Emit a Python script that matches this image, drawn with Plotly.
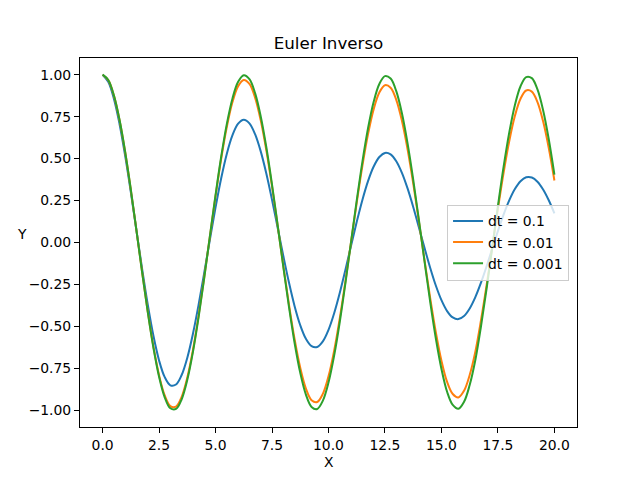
import plotly.graph_objects as go

# values, t = 0 .. 20 every 0.25
x_vals = [i * 0.25 for i in range(81)]

y_dt_01 = [1.0, 0.9571, 0.8568, 0.7065, 0.5167, 0.3000, 0.0703, -0.1582, -0.3713,
           -0.5564, -0.7031, -0.8030, -0.8515, -0.8467, -0.7902, -0.6867, -0.5439,
           -0.3712, -0.1802, 0.0173, 0.2088, 0.3828, 0.5292, 0.6395, 0.7083, 0.7317,
           0.7100, 0.6453, 0.5428, 0.4096, 0.2547, 0.0879, -0.0801, -0.2391, -0.3796,
           -0.4933, -0.5742, -0.6179, -0.6228, -0.5894, -0.5209, -0.4221, -0.3000,
           -0.1626, -0.0185, 0.1231, 0.2537, 0.3656, 0.4524, 0.5094, 0.5338, 0.5250,
           0.4843, 0.4150, 0.3220, 0.2116, 0.0909, -0.0323, -0.1505, -0.2566, -0.3440,
           -0.4090, -0.4469, -0.4568, -0.4383, -0.3935, -0.3257, -0.2397, -0.1412,
           -0.0364, 0.0681, 0.1657, 0.2509, 0.3186, 0.3652, 0.3883, 0.3871, 0.3622,
           0.3158, 0.2513, 0.1729]

y_dt_001 = [1.0, 0.9677, 0.8754, 0.7290, 0.5376, 0.3134, 0.0702, -0.1767, -0.4120,
            -0.6211, -0.7912, -0.9117, -0.9753, -0.9781, -0.9202, -0.8053, -0.6407,
            -0.4367, -0.2061, 0.0367, 0.2767, 0.4988, 0.6894, 0.8368, 0.9318, 0.9687,
            0.9454, 0.8634, 0.7280, 0.5477, 0.3339, 0.0999, -0.1398, -0.3702, -0.5770,
            -0.7474, -0.8710, -0.9403, -0.9509, -0.9025, -0.7981, -0.6445, -0.4512,
            -0.2304, 0.0042, 0.2379, 0.4563, 0.6458, 0.7947, 0.8939, 0.9373, 0.9225,
            0.8503, 0.7256, 0.5559, 0.3525, 0.1275, -0.1049, -0.3301, -0.5343, -0.7048,
            -0.8311, -0.9033, -0.9235, -0.8840, -0.7898, -0.6506, -0.4639, -0.2527,
            -0.0264, 0.2010, 0.4154, 0.6035, 0.7536, 0.8566, 0.9060, 0.8991, 0.8364,
            0.7219, 0.5629, 0.3692]

y_dt_0001 = [1.0, 0.9688, 0.8772, 0.7314, 0.5400, 0.3151, 0.0707, -0.1781, -0.4157,
             -0.6275, -0.8001, -0.9230, -0.9885, -0.9925, -0.9348, -0.8190, -0.6523,
             -0.4451, -0.2103, 0.0375, 0.2830, 0.5107, 0.7067, 0.8587, 0.9573, 0.9963,
             0.9734, 0.8900, 0.7513, 0.5659, 0.3453, 0.1034, -0.1449, -0.3842, -0.5995,
             -0.7774, -0.9070, -0.9802, -0.9924, -0.9430, -0.8349, -0.6749, -0.4731,
             -0.2418, 0.0044, 0.2503, 0.4805, 0.6809, 0.8388, 0.9446, 0.9916, 0.9769,
             0.9016, 0.7702, 0.5907, 0.3750, 0.1358, -0.1118, -0.3524, -0.5710, -0.7540,
             -0.8902, -0.9686, -0.9913, -0.9500, -0.8497, -0.7008, -0.5003, -0.2729,
             -0.0285, 0.2175, 0.4500, 0.6544, 0.8181, 0.9310, 0.9858, 0.9794, 0.9121,
             0.7881, 0.6152, 0.4040]

series = [("dt = 0.1", y_dt_01, "#1f77b4"),
          ("dt = 0.01", y_dt_001, "#ff7f0e"),
          ("dt = 0.001", y_dt_0001, "#2ca02c")]

y_ticks = [-1.0, -0.75, -0.5, -0.25, 0.0, 0.25, 0.5, 0.75, 1.0]
y_labels = [f"{v:.2f}".replace("-", "\u2212") for v in y_ticks]
x_ticks = [0.0, 2.5, 5.0, 7.5, 10.0, 12.5, 15.0, 17.5, 20.0]
x_labels = [f"{v:.1f}" for v in x_ticks]

FONT = "DejaVu Sans"
# the page puts the figure 8px in from the top-left corner
W, H = 632, 472
L, T, R, B = 72, 50, 63, 53
PW, PH = W - L - R, H - T - B

fig = go.Figure()
for name, ys, col in series:
    fig.add_trace(go.Scatter(x=x_vals, y=ys, name=name, mode="lines",
                             line=dict(color=col, width=2, shape="spline", smoothing=1)))

axis_common = dict(showgrid=False, zeroline=False, showline=True, mirror=True,
                   linecolor="black", linewidth=1, ticks="outside", ticklen=5,
                   tickwidth=1, tickcolor="black",
                   tickfont=dict(family=FONT, size=13.9, color="black"))

fig.update_layout(
    width=W, height=H,
    margin=dict(l=L, r=R, t=T, b=B),
    paper_bgcolor="white", plot_bgcolor="white",
    font=dict(family=FONT, size=13.9, color="black"),
    title=dict(text="Euler Inverso", x=0.5, xref="paper", xanchor="center",
               y=1 - 35 / H, yanchor="middle",
               font=dict(family=FONT, size=16.7, color="black")),
    xaxis=dict(range=[-1, 21], tickvals=x_ticks, ticktext=x_labels, **axis_common),
    yaxis=dict(range=[-1.1, 1.0995], tickvals=y_ticks, ticktext=y_labels, **axis_common),
    legend=dict(x=0.984, xanchor="right", y=0.5, yanchor="middle",
                bgcolor="rgba(255,255,255,0.8)", bordercolor="#cccccc", borderwidth=1,
                font=dict(family=FONT, size=13.9), tracegroupgap=0, itemwidth=30),
    showlegend=True,
)

fig.add_annotation(text="X", xref="paper", yref="paper", x=0.5, y=-35 / PH,
                   showarrow=False, xanchor="center", yanchor="middle",
                   font=dict(family=FONT, size=13.9, color="black"))
fig.add_annotation(text="Y", xref="paper", yref="paper", x=-58 / PW, y=0.523,
                   showarrow=False, xanchor="center", yanchor="middle",
                   font=dict(family=FONT, size=13.9, color="black"))

fig.write_html("out.html")
